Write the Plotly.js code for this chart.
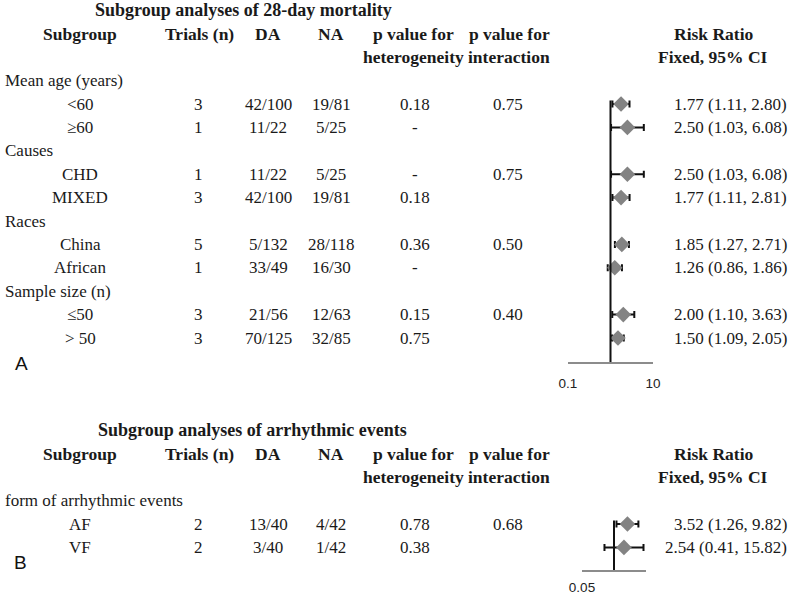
<!DOCTYPE html>
<html>
<head>
<meta charset="utf-8">
<script src="https://cdn.plot.ly/plotly-3.0.1.min.js"></script>
<style>
  html, body { margin: 0; padding: 0; background: #fff; }
  #graph { width: 800px; height: 596px; }
</style>
</head>
<body>
<div id="graph"></div>
<script>
// panel A - 28-day mortality
var groupsA = ['Mean age (years)', 'Causes', 'Races', 'Sample size (n)'];
var subA = ['<60', '\u226560', 'CHD', 'MIXED', 'China', 'African', '\u226450', '> 50'];
var trialsA = [3, 1, 1, 3, 5, 1, 3, 3];
var daA = ['42/100', '11/22', '11/22', '42/100', '5/132', '33/49', '21/56', '70/125'];
var naA = ['19/81', '5/25', '5/25', '19/81', '28/118', '16/30', '12/63', '32/85'];
var phetA = ['0.18', '-', '-', '0.18', '0.36', '-', '0.15', '0.75'];
var pintA = ['0.75', '', '0.75', '', '0.50', '', '0.40', ''];
var rrA = [1.77, 2.50, 2.50, 1.77, 1.85, 1.26, 2.00, 1.50];
var loA = [1.11, 1.03, 1.03, 1.11, 1.27, 0.86, 1.10, 1.09];
var hiA = [2.80, 6.08, 6.08, 2.81, 2.71, 1.86, 3.63, 2.05];

// panel B - arrhythmic events
var groupsB = ['form of arrhythmic events'];
var subB = ['AF', 'VF'];
var trialsB = [2, 2];
var daB = ['13/40', '3/40'];
var naB = ['4/42', '1/42'];
var phetB = ['0.78', '0.38'];
var pintB = ['0.68', ''];
var rrB = [3.52, 2.54];
var loB = [1.26, 0.41];
var hiB = [9.82, 15.82];

var serif = 'Liberation Serif, Times New Roman, serif';
var sans = 'Liberation Sans, Arial, sans-serif';
var txtCol = '#1a1a1a';

var annotations = [];

function ann(text, xpx, y, yref, anchor, size, bold){
  annotations.push({
    text: bold ? '<b>' + text + '</b>' : text,
    x: xpx / 800, xref: 'paper',
    y: y, yref: yref,
    xanchor: anchor || 'center', yanchor: 'middle',
    showarrow: false,
    font: {family: serif, size: size || 17, color: txtCol}
  });
}

function fmt(v){ return v.toFixed(2); }

function panel(title, titleX, groups, sub, trials, da, na, phet, pint, rr, lo, hi, yref){
  ann(title, titleX, -4, yref, 'center', 18, true);
  var heads = [['Subgroup', 80], ['Trials (n)', 199], ['DA', 268], ['NA', 331],
               ['p value for', 414], ['p value for', 509], ['Risk Ratio', 713]];
  heads.forEach(function(h){ ann(h[0], h[1], -3, yref, 'center', 17.5, true); });
  ann('heterogeneity', 414, -2, yref, 'center', 17.5, true);
  ann('interaction', 509, -2, yref, 'center', 17.5, true);
  ann('Fixed, 95% CI', 713, -2, yref, 'center', 17.5, true);

  var rows = [];
  for (var g = 0; g < groups.length; g++){
    ann(groups[g], 3, g * 3 - 1, yref, 'left');
  }
  for (var i = 0; i < sub.length; i++){
    var r = Math.floor(i / 2) * 3 + (i % 2);
    rows.push(r);
    ann(sub[i], 80, r, yref);
    ann(String(trials[i]), 198, r, yref);
    ann(da[i], 268, r, yref);
    ann(na[i], 331, r, yref);
    ann(phet[i], 415, r, yref);
    if (pint[i]) ann(pint[i], 508, r, yref);
    ann(fmt(rr[i]) + ' (' + fmt(lo[i]) + ', ' + fmt(hi[i]) + ')', 789, r, yref, 'right');
  }
  return rows;
}

var rowsA = panel('Subgroup analyses of 28-day mortality', 243,
  groupsA, subA, trialsA, daA, naA, phetA, pintA, rrA, loA, hiA, 'y');
var rowsB = panel('Subgroup analyses of arrhythmic events', 252,
  groupsB, subB, trialsB, daB, naB, phetB, pintB, rrB, loB, hiB, 'y2');

function forest(rr, lo, hi, rows, xa, ya){
  return {
    x: rr, y: rows, xaxis: xa, yaxis: ya,
    type: 'scatter', mode: 'markers',
    marker: {symbol: 'diamond', size: 12, color: '#838383', line: {width: 0}},
    error_x: {
      type: 'data', symmetric: false,
      array: rr.map(function(v, i){ return hi[i] - v; }),
      arrayminus: rr.map(function(v, i){ return v - lo[i]; }),
      color: '#111', thickness: 2, width: 3.5
    },
    cliponaxis: false,
    hoverinfo: 'skip', showlegend: false
  };
}

var data = [forest(rrA, loA, hiA, rowsA, 'x', 'y'),
            forest(rrB, loB, hiB, rowsB, 'x2', 'y2')];

// panel letters
annotations.push({text: 'A', x: 21 / 800, y: 1 - 363 / 596, xref: 'paper', yref: 'paper',
  showarrow: false, xanchor: 'center', yanchor: 'middle', font: {family: sans, size: 19, color: '#111'}});
annotations.push({text: 'B', x: 20 / 800, y: 1 - 562 / 596, xref: 'paper', yref: 'paper',
  showarrow: false, xanchor: 'center', yanchor: 'middle', font: {family: sans, size: 19, color: '#111'}});

// row -> pixel: A 104 + 23.4 r (axis line at 362), B 524 + 23.4 r (axis line at 570)
var yBotA = (362 - 104) / 23.4, yTopA = -104 / 23.4;
var yBotB = (570 - 524) / 23.4, yTopB = (420 - 524) / 23.4;

var axisX = {
  type: 'log', showgrid: false, zeroline: false, fixedrange: true,
  showline: true, linecolor: '#8c8c8c', linewidth: 2,
  ticks: 'inside', ticklen: 6, tickcolor: '#8c8c8c', tickwidth: 2,
  tickfont: {family: sans, size: 13.5, color: '#222'}
};

var layout = {
  width: 800, height: 596,
  margin: {l: 0, r: 0, t: 0, b: 0},
  paper_bgcolor: '#fff', plot_bgcolor: 'rgba(0,0,0,0)',
  showlegend: false,
  xaxis: Object.assign({}, axisX, {
    domain: [568 / 800, 653 / 800], range: [-1, 1], anchor: 'y',
    tickvals: [0.1, 10], ticktext: ['0.1', '10'], ticklabelstandoff: 8
  }),
  yaxis: {domain: [1 - 362 / 596, 1], range: [yBotA, yTopA], visible: false, fixedrange: true},
  xaxis2: Object.assign({}, axisX, {
    domain: [582 / 800, 646 / 800], range: [Math.log10(0.05), Math.log10(20)], anchor: 'y2',
    tickvals: [0.05], ticktext: ['0.05'], ticklabelstandoff: 4
  }),
  yaxis2: {domain: [1 - 570 / 596, 1 - 420 / 596], range: [yBotB, yTopB], visible: false, fixedrange: true},
  shapes: [
    {type: 'line', xref: 'x', yref: 'y', x0: 1, x1: 1, y0: -0.15, y1: yBotA,
     line: {color: '#111', width: 2}},
    {type: 'line', xref: 'x2', yref: 'y2', x0: 1, x1: 1, y0: -0.15, y1: yBotB,
     line: {color: '#111', width: 2}}
  ],
  annotations: annotations
};

Plotly.newPlot('graph', data, layout, {displayModeBar: false, staticPlot: true});
</script>
</body>
</html>
